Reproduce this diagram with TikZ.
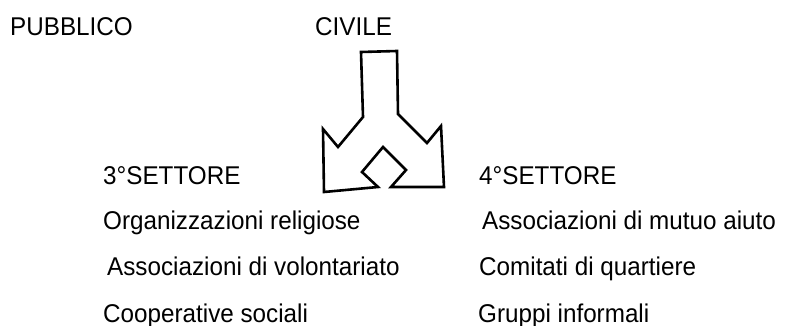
\documentclass[tikz,border=0pt]{standalone}
\usepackage{fontspec}
\setmainfont{Liberation Sans}
\usetikzlibrary{positioning}

\newcommand{\tallText}[1]{\scalebox{1.01}[1.07]{#1}}

\begin{document}
\begin{tikzpicture}
  [x=1pt, y=-1pt,
    label/.style={
      anchor=base west,
      inner sep=0pt,
      font=\fontsize{24}{28}\selectfont
    },
    splitarrow/.style={
      draw=black, line width=2.6pt,
      line join=miter
    }
  ]
  \useasboundingbox (0,0) rectangle (806,326);
  % sectors on top
  \node[label] (pubblico) at (10,36) {\tallText{PUBBLICO}};
  \node[label] (civile) at (315,36) {\tallText{CIVILE}};
  % the forked arrow
  \draw[splitarrow] (361,52) -- (397,51) -- (398,114) -- (427,143)
    -- (441,126) -- (444,187) -- (391,187) -- (406,170) -- (383,147)
    -- (362,172) -- (378,187) -- (324,192) -- (323,129) -- (338,147)
    -- (363,117) -- cycle;
  % third sector
  \node[label] (terzo) at (103,184) {\tallText{3°SETTORE}};
  \node[label] (religiose) at (103,229) {\tallText{Organizzazioni religiose}};
  \node[label] (volontariato) at (107,275) {\tallText{Associazioni di volontariato}};
  \node[label] (cooperative) at (103,322) {\tallText{Cooperative sociali}};
  % fourth sector
  \node[label] (quarto) at (479,184) {\tallText{4°SETTORE}};
  \node[label] (mutuo) at (482,229) {\tallText{Associazioni di mutuo aiuto}};
  \node[label] (comitati) at (479,275) {\tallText{Comitati di quartiere}};
  \node[label] (gruppi) at (478,322) {\tallText{Gruppi informali}};
\end{tikzpicture}
\end{document}
